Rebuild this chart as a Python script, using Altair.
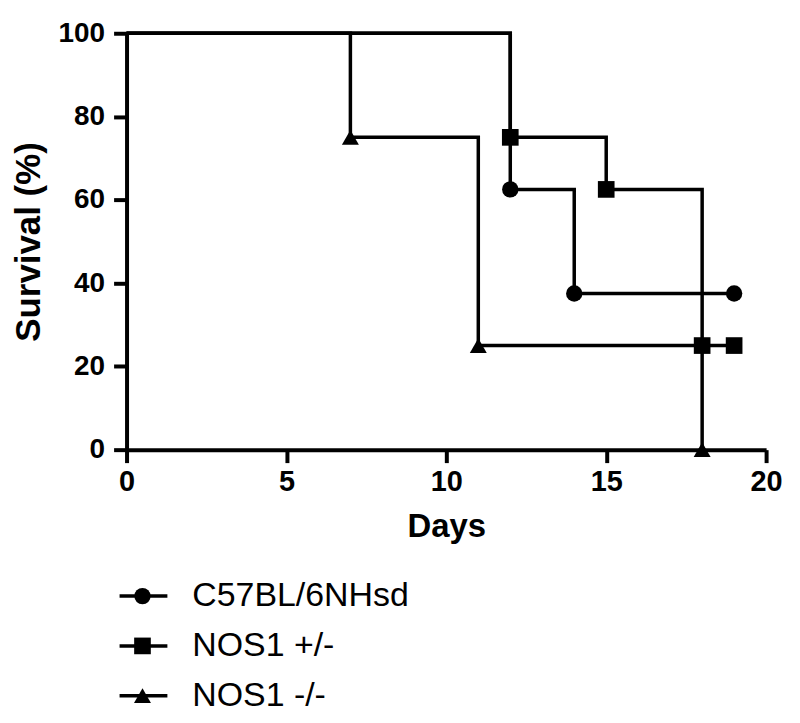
import altair as alt
import pandas as pd

series = ["C57BL/6NHsd", "NOS1 +/-", "NOS1 -/-"]
shapes = ["circle", "square", "triangle-up"]
marker_sizes = [270, 290, 260]

c57_days = [0, 12, 14, 19]
c57_surv = [100, 62.5, 37.5, 37.5]
het_days = [0, 12, 15, 18, 19]
het_surv = [100, 75, 62.5, 25, 25]
ko_days = [0, 7, 11, 18]
ko_surv = [100, 75, 25, 0]

x_ticks = [0, 5, 10, 15, 20]
y_ticks = [0, 20, 40, 60, 80, 100]

rows = []
for name, d, s in zip(series, [c57_days, het_days, ko_days], [c57_surv, het_surv, ko_surv]):
    for i, (dd, ss) in enumerate(zip(d, s)):
        rows.append({"series": name, "day": dd, "surv": ss, "event": i > 0})
df = pd.DataFrame(rows)
leg = pd.DataFrame({"series": series})

FONT = "Liberation Sans"

x_enc = alt.X("day:Q", scale=alt.Scale(domain=[0, 20], nice=False),
              axis=alt.Axis(values=x_ticks, title="Days", grid=False,
                            tickSize=13, tickWidth=4, domainWidth=4,
                            domainColor="black", tickColor="black",
                            labelFont=FONT, labelFontSize=29, labelFontWeight="bold",
                            labelColor="black", labelPadding=5, labelFlush=False,
                            titleFont=FONT, titleFontSize=33, titleFontWeight="bold",
                            titleColor="black", titlePadding=14))
y_enc = alt.Y("surv:Q", scale=alt.Scale(domain=[0, 100], nice=False),
              axis=alt.Axis(values=y_ticks, title="Survival (%)", grid=False,
                            tickSize=13, tickWidth=4, domainWidth=4,
                            domainColor="black", tickColor="black",
                            labelFont=FONT, labelFontSize=28, labelFontWeight="bold",
                            labelColor="black", labelPadding=9, labelFlush=False,
                            titleFont=FONT, titleFontSize=35, titleFontWeight="bold",
                            titleColor="black", titlePadding=12))

shape_enc = alt.Shape("series:N", scale=alt.Scale(domain=series, range=shapes), legend=None)
size_enc = alt.Size("series:O", scale=alt.Scale(domain=series, range=marker_sizes), legend=None)

lines = alt.Chart(df).mark_line(interpolate="step-after", color="black", strokeWidth=3.5,
                                strokeJoin="miter").encode(
    x=x_enc, y=y_enc, detail="series:N", order="day:Q")

points = alt.Chart(df).transform_filter("datum.event").mark_point(
    filled=True, color="black", opacity=1, strokeWidth=0).encode(
    x=alt.X("day:Q"), y=alt.Y("surv:Q"), shape=shape_enc, size=size_enc)

main = alt.layer(lines, points)

ly = alt.Y("series:N", scale=alt.Scale(type="point", domain=series, range=[565, 665], padding=0), axis=None)

leg_rule = alt.Chart(leg).mark_rule(color="black", strokeWidth=3.5).encode(
    y=ly, x=alt.value(-7), x2=alt.value(41))
leg_pt = alt.Chart(leg).mark_point(filled=True, color="black", opacity=1, strokeWidth=0).encode(
    y=ly, x=alt.value(16), shape=shape_enc, size=size_enc)
leg_txt = alt.Chart(leg).mark_text(align="left", baseline="middle", font=FONT, fontSize=34,
                                   color="black").encode(
    y=ly, x=alt.value(66), text="series:N")

legend = alt.layer(leg_rule, leg_pt, leg_txt)

chart = alt.layer(main, legend).resolve_scale(y="independent").properties(
    width=642, height=418,
    autosize=alt.AutoSizeParams(type="none"),
    padding={"left": 119, "top": 24, "right": 26, "bottom": 264},
    background="white",
).configure_view(stroke=None)

chart.save("out.html", embed_options={"renderer": "svg", "actions": False})
